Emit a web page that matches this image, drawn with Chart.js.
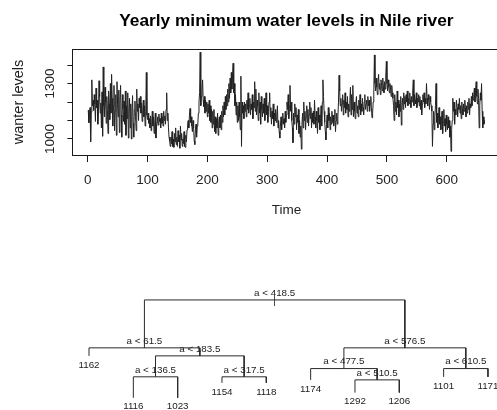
<!DOCTYPE html>
<html>
<head>
<meta charset="utf-8">
<script src="https://cdn.jsdelivr.net/npm/chart.js@4/dist/chart.umd.min.js"></script>
<style>
  html, body { margin: 0; padding: 0; background: #fff; overflow: hidden; width: 497px; height: 410px; }
  #series { position: absolute; left: 0; top: 0; }
  #tree { position: absolute; left: 0; top: 270px; }
</style>
</head>
<body>
<canvas id="series" width="520" height="230"></canvas>
<canvas id="tree" width="497" height="140"></canvas>
<script>
// Yearly minimum water level of the Nile, one value per year index (1..663)
const nileMin = [
  1157, 1088, 1125, 1170, 985, 1145, 1320, 1180, 1210, 1155,
  1240, 1190, 1095, 1275, 1170, 1210, 1080, 1150, 1315, 1230,
  1140, 1195, 1060, 1255, 1015, 1390, 1180, 1120, 1280, 1200,
  1085, 1230, 1160, 1030, 1260, 1190, 1105, 1300, 1140, 1350,
  1220, 1070, 1180, 1290, 1045, 1150, 1240, 1020, 1310, 1185,
  1120, 1265, 1035, 1200, 1290, 1130, 1010, 1240, 1165, 1095,
  1205, 1080, 1260, 1020, 1180, 1110, 1250, 1005, 1140, 1220,
  1060, 1190, 1000, 1130, 1235, 1085, 1010, 1160, 1205, 1120,
  1045, 1270, 1150, 1190, 1100, 1220, 1170, 1230, 1140, 1195,
  1095, 1160, 1210, 1120, 1180, 1070, 1150, 1360, 1130, 1105,
  1140, 1085, 1110, 1060, 1125, 1045, 1095, 1150, 1070, 1120,
  1030, 1080, 1140, 1005, 1060, 1090, 1120, 1075, 1135, 1095,
  1110, 1060, 1140, 1085, 1120, 1070, 1150, 1100, 1125, 1080,
  1160, 1250, 1100, 1140, 1060, 1010, 990, 960, 1010, 975,
  1040, 960, 1000, 955, 1030, 985, 1060, 970, 1010, 960,
  1045, 985, 1020, 950, 1070, 995, 1030, 960, 1000, 975,
  1040, 960, 955, 1020, 985, 1050, 1080, 1100, 1060, 1125,
  1165, 1090, 1120, 1070, 1040, 1100, 1060, 990, 970, 1050,
  1080, 1010, 1070, 1080, 1140, 1200, 1250, 1470, 1180, 1230,
  1270, 1320, 1210, 1175, 1230, 1140, 1210, 1150, 1200, 1120,
  1190, 1140, 1210, 1100, 1180, 1090, 1160, 1060, 1150, 1080,
  1160, 1040, 1120, 1030, 1110, 1060, 1140, 1020, 1090, 1120,
  1060, 1130, 1050, 1150, 1090, 1180, 1120, 1200, 1130, 1230,
  1160, 1240, 1180, 1270, 1200, 1300, 1220, 1330, 1250, 1360,
  1270, 1340, 1410, 1250, 1300, 1180, 1240, 1130, 1200, 1090,
  1180, 1100, 1200, 1120, 1050, 1340, 960, 1200, 1140, 1180,
  1110, 1200, 1150, 1190, 1120, 1210, 1160, 1250, 1140, 1180,
  1220, 1130, 1190, 1160, 1240, 1110, 1200, 1170, 1310, 1150,
  1270, 1130, 1210, 1180, 1100, 1250, 1140, 1200, 1080, 1230,
  1160, 1120, 1190, 1140, 1220, 1100, 1170, 1250, 1130, 1180,
  1090, 1150, 1200, 1250, 1120, 1170, 1080, 1150, 1110, 1190,
  1070, 1140, 1100, 1160, 1090, 1120, 1180, 1060, 1100, 1040,
  1005, 1070, 1120, 1050, 1090, 1140, 1080, 1110, 1060, 1150,
  1090, 1130, 1200, 1160, 1240, 1110, 1180, 1290, 1150, 1200,
  1100, 1060, 980, 1140, 1080, 1190, 1120, 1170, 1050, 1130,
  1090, 1160, 1030, 1100, 1010, 1070, 945, 1080, 1140, 1060,
  1200, 1100, 1150, 1050, 1120, 1180, 1090, 1160, 1070, 1130,
  1200, 1110, 1170, 1060, 1140, 1090, 1150, 1080, 1210, 1120,
  1060, 1150, 1100, 1030, 1170, 1090, 1130, 1050, 1110, 1180,
  1070, 1200, 1320, 1230, 1150, 1090, 1040, 995, 1080, 1130,
  1060, 1170, 1100, 1140, 1050, 1120, 1080, 1150, 1090, 1130,
  1070, 1110, 1160, 1040, 1100, 1140, 1080, 1120, 1200, 1345,
  1260, 1180, 1220, 1150, 1190, 1240, 1130, 1210, 1170, 1250,
  1140, 1200, 1160, 1230, 1120, 1190, 1150, 1210, 1280, 1130,
  1240, 1160, 1290, 1120, 1200, 1150, 1110, 1190, 1230, 1140,
  1180, 1120, 1210, 1160, 1240, 1130, 1190, 1150, 1220, 1170,
  1130, 1200, 1240, 1160, 1190, 1210, 1150, 1230, 1180, 1210,
  1150, 1190, 1230, 1170, 1115, 1140, 1200, 1250, 1455, 1300,
  1260, 1330, 1280, 1240, 1310, 1350, 1270, 1300, 1240, 1320,
  1290, 1260, 1330, 1280, 1250, 1310, 1270, 1340, 1420, 1300,
  1260, 1320, 1280, 1250, 1300, 1270, 1230, 1290, 1250, 1220,
  1180, 1100, 1240, 1150, 1200, 1130, 1260, 1170, 1210, 1120,
  1190, 1150, 1230, 1075, 1180, 1220, 1160, 1250, 1190, 1230,
  1170, 1240, 1200, 1260, 1180, 1220, 1190, 1250, 1210, 1170,
  1230, 1200, 1260, 1320, 1180, 1240, 1210, 1190, 1250, 1170,
  1220, 1200, 1240, 1180, 1230, 1160, 1210, 1130, 1190, 1240,
  1200, 1250, 1170, 1220, 1190, 1300, 1220, 1180, 1240, 1210,
  1160, 1230, 1200, 1180, 1150, 960, 1080, 1150, 1050, 1120,
  1180, 1300, 1090, 1140, 1060, 1110, 1170, 1080, 1120, 1050,
  1100, 1150, 1030, 1090, 1160, 1070, 1110, 1040, 1130, 1080,
  1050, 1120, 1060, 1100, 1010, 1070, 933, 1050, 1100, 1220,
  1150, 1200, 1080, 1160, 1130, 1210, 1170, 1120, 1190, 1160,
  1220, 1140, 1180, 1110, 1200, 1160, 1130, 1190, 1150, 1210,
  1170, 1120, 1180, 1140, 1200, 1160, 1220, 1130, 1190, 1170,
  1230, 1180, 1250, 1210, 1240, 1276, 1200, 1260, 1310, 1230,
  1190, 1270, 1220, 1060, 1180, 1250, 1210, 1300, 1150, 1060,
  1120, 1080, 1100
];

// Axis ticks of the series panel
const timeTicks = [0, 100, 200, 300, 400, 500, 600];
const levelTicks = [1000, 1100, 1200, 1300, 1400];
const levelTickLabels = [1000, 1300];

// Regression tree of level on year index "a" (preorder, R node numbers)
const treeNode    = [1, 2, 4, 5, 10, 20, 21, 11, 22, 23, 3, 6, 12, 13, 26, 27, 7, 14, 15];
const treeCut     = [418.5, 61.5, null, 183.5, 136.5, null, null, 317.5, null, null,
                     576.5, 477.5, null, 510.5, null, null, 610.5, null, null];
const treeMean    = [null, null, 1162, null, null, 1116, 1023, null, 1154, 1118,
                     null, null, 1174, null, 1292, 1206, null, 1101, 1171];
// deviance removed by each split (thousands); sets the drop to the children
const treeDevDrop = [800, 134, 0, 350, 350, 0, 0, 100, 0, 0,
                     346, 189, 0, 212, 0, 0, 139, 0, 0];

const FONT = '"Liberation Sans", Arial, Helvetica, sans-serif';
const INK = '#222';

// Box round the plotting region
const framePlugin = {
  id: 'frame',
  afterDraw(chart) {
    const { ctx, chartArea: a } = chart;
    const l = Math.round(a.left), t = Math.round(a.top);
    const r = Math.round(a.right), b = Math.round(a.bottom);
    ctx.save();
    ctx.strokeStyle = '#1a1a1a';
    ctx.lineWidth = 1;
    ctx.strokeRect(l + 0.5, t + 0.5, r - l, b - t);
    ctx.restore();
  }
};

new Chart(document.getElementById('series'), {
  type: 'line',
  data: {
    datasets: [{
      data: nileMin.map((v, i) => ({ x: i + 1, y: v })),
      borderColor: INK,
      borderWidth: 1,
      borderJoinStyle: 'round',
      pointRadius: 0,
      tension: 0,
      fill: false
    }]
  },
  options: {
    responsive: false,
    animation: false,
    events: [],
    layout: { padding: { left: 0, right: 19.6, top: 0, bottom: 0 } },
    plugins: {
      legend: { display: false },
      tooltip: { enabled: false },
      title: {
        display: true,
        text: 'Yearly minimum water levels in Nile river',
        fullSize: false,
        color: '#000',
        font: { family: FONT, size: 17.3, weight: 'bold' },
        padding: { top: 11.2, bottom: 17.0 }
      }
    },
    scales: {
      x: {
        type: 'linear',
        min: -25.48,
        max: 689.48,
        afterBuildTicks: s => { s.ticks = timeTicks.map(v => ({ value: v })); },
        afterFit: s => { s.height = 75; },
        border: { display: false },
        grid: { display: true, drawOnChartArea: false, drawTicks: true, tickLength: 7, color: '#1a1a1a' },
        ticks: { padding: 10, color: '#222', autoSkip: false, maxRotation: 0, font: { family: FONT, size: 13.5 } },
        title: { display: true, text: 'Time', color: '#222', font: { family: FONT, size: 13.5 }, padding: { top: 0, bottom: 11.4 } }
      },
      y: {
        type: 'linear',
        min: 913.4,
        max: 1487.3,
        afterBuildTicks: s => { s.ticks = levelTicks.map(v => ({ value: v })); },
        afterFit: s => { s.width = 72.4; },
        border: { display: false },
        grid: { display: true, drawOnChartArea: false, drawTicks: true, tickLength: 5, color: '#1a1a1a' },
        ticks: {
          callback: v => levelTickLabels.includes(v) ? String(v) : '',
          minRotation: 90, maxRotation: 90, crossAlign: 'center', padding: 2.5,
          autoSkip: false, color: '#222', font: { family: FONT, size: 13.5 }
        },
        title: { display: true, text: 'wanter levels', color: '#222', font: { family: FONT, size: 14.5 }, padding: { top: 10.5, bottom: 0 } }
      }
    }
  },
  plugins: [framePlugin]
});

// ---- tree layout: leaves spaced one unit apart, splits centred over their children,
// ---- children hang below their parent by the deviance the split removes
const nodeIndex = {};
treeNode.forEach((n, i) => { nodeIndex[n] = i; });
const isLeaf = i => treeCut[i] === null;
const posX = [], posY = [];
let leafOrder = 0;
function place(node, y) {
  const i = nodeIndex[node];
  posY[i] = y;
  if (isLeaf(i)) { posX[i] = ++leafOrder; return; }
  const childY = y + treeDevDrop[i];
  place(2 * node, childY);
  place(2 * node + 1, childY);
  posX[i] = (posX[nodeIndex[2 * node]] + posX[nodeIndex[2 * node + 1]]) / 2;
}
place(1, 0);

const branchSets = [];
treeNode.forEach((node, i) => {
  if (isLeaf(i)) return;
  const l = nodeIndex[2 * node], r = nodeIndex[2 * node + 1];
  branchSets.push({
    data: [
      { x: posX[l], y: posY[l] },
      { x: posX[l], y: posY[i] },
      { x: posX[r], y: posY[i] },
      { x: posX[r], y: posY[r] }
    ],
    showLine: true,
    borderColor: '#2a2a2a',
    borderWidth: 1,
    pointRadius: 0,
    fill: false,
    tension: 0
  });
});

const treeLabels = {
  id: 'treeLabels',
  afterDatasetsDraw(chart) {
    const { ctx, scales: { x, y } } = chart;
    ctx.save();
    ctx.fillStyle = '#222';
    ctx.textAlign = 'center';
    ctx.textBaseline = 'middle';
    ctx.font = '9.8px ' + FONT;
    treeNode.forEach((node, i) => {
      const px = x.getPixelForValue(posX[i]);
      const py = y.getPixelForValue(posY[i]);
      if (isLeaf(i)) {
        ctx.fillText(String(treeMean[i]), px, py + 9);
      } else {
        ctx.fillText('a < ' + treeCut[i], px, py - 7);
      }
    });
    // root marker
    ctx.font = '10px ' + FONT;
    ctx.fillText('|', x.getPixelForValue(posX[0]), y.getPixelForValue(posY[0]) + 1.5);
    ctx.restore();
  }
};

new Chart(document.getElementById('tree'), {
  type: 'scatter',
  data: { datasets: branchSets },
  options: {
    responsive: false,
    animation: false,
    events: [],
    layout: { padding: 0 },
    plugins: { legend: { display: false }, tooltip: { enabled: false }, title: { display: false } },
    scales: {
      x: { type: 'linear', display: false, min: -1.008, max: 10.204 },
      y: { type: 'linear', display: false, reverse: true, min: -500, max: 1838 }
    }
  },
  plugins: [treeLabels]
});
</script>
</body>
</html>
